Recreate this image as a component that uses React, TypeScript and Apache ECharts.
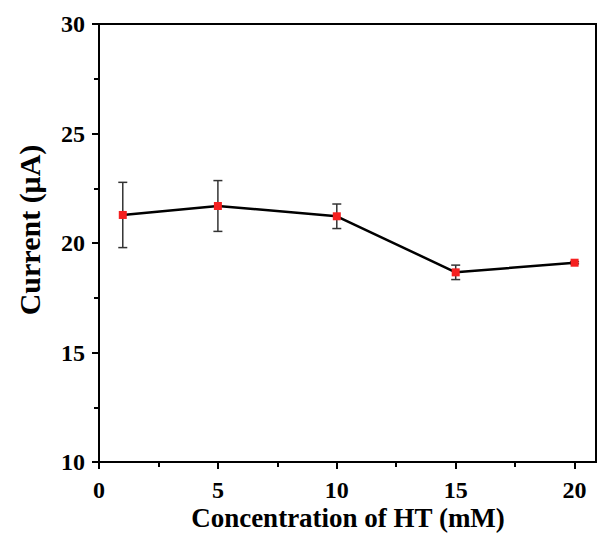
import React, { useEffect, useRef } from "react";
import * as echarts from "echarts";

const concentrations = [1, 5, 10, 15, 20];
const currents = [21.28, 21.69, 21.22, 18.66, 19.1];
const errors = [1.49, 1.16, 0.56, 0.33, 0.05];
const xMajorTicks = [0, 5, 10, 15, 20];
const xMinorTicks = [2.5, 7.5, 12.5, 17.5];
const xTitle = "Concentration of HT (mM)";
const yTitle = "Current (μA)";

const FONT = "'Liberation Serif', 'Times New Roman', serif";

export default function App() {
  const ref = useRef<HTMLDivElement>(null);
  useEffect(() => {
    if (!ref.current) return;
    const chart = echarts.init(ref.current, undefined, { renderer: "svg" });
    const lineData = concentrations.map((c, i) => [c, currents[i]]);
    const errData = concentrations.map((c, i) => [c, currents[i] - errors[i], currents[i] + errors[i]]);
    chart.setOption({
      animation: false,
      backgroundColor: "#ffffff",
      grid: {
        left: 99,
        top: 24,
        right: 2,
        bottom: 74,
        show: true,
        borderColor: "#000",
        borderWidth: 2,
        backgroundColor: "transparent",
      },
      graphic: [
        {
          type: "text",
          x: 348,
          y: 518,
          style: {
            text: xTitle,
            fontFamily: FONT,
            fontWeight: "bold",
            fontSize: 27,
            fill: "#000",
            textAlign: "center",
            textVerticalAlign: "middle",
          },
        },
        {
          type: "text",
          x: 29,
          y: 230,
          rotation: Math.PI / 2,
          style: {
            text: yTitle,
            fontFamily: FONT,
            fontWeight: "bold",
            fontSize: 30,
            fill: "#000",
            textAlign: "center",
            textVerticalAlign: "middle",
          },
        },
      ],
      xAxis: [
        {
          type: "value",
          min: 0,
          max: 20.9,
          position: "bottom",
          axisLine: { show: true, onZero: false, lineStyle: { color: "#000", width: 2 } },
          axisTick: { show: true, inside: false, length: 7, customValues: xMajorTicks, lineStyle: { color: "#000", width: 2 } },
          axisLabel: { show: true, customValues: xMajorTicks, margin: 16, fontFamily: FONT, fontWeight: "bold", fontSize: 24, color: "#000" },
          splitLine: { show: false },
        },
        {
          type: "value",
          min: 0,
          max: 20.9,
          position: "bottom",
          axisLine: { show: false },
          axisTick: { show: true, inside: false, length: 5, customValues: xMinorTicks, lineStyle: { color: "#000", width: 2 } },
          axisLabel: { show: false },
          splitLine: { show: false },
        },
      ],
      yAxis: {
        type: "value",
        min: 10,
        max: 30,
        interval: 5,
        axisLine: { show: true, onZero: false, lineStyle: { color: "#000", width: 2 } },
        axisTick: { show: true, inside: false, length: 7, lineStyle: { color: "#000", width: 2 } },
        minorTick: { show: true, splitNumber: 2, length: 5, lineStyle: { color: "#000", width: 2 } },
        axisLabel: { margin: 14, fontFamily: FONT, fontWeight: "bold", fontSize: 24, color: "#000" },
        splitLine: { show: false },
      },
      series: [
        {
          type: "custom",
          xAxisIndex: 0,
          z: 1,
          data: errData,
          renderItem: (params: any, api: any) => {
            const x = api.value(0);
            const lo = api.coord([x, api.value(1)]);
            const hi = api.coord([x, api.value(2)]);
            const w = 4.5;
            const style = { stroke: "#333", lineWidth: 1.5 };
            return {
              type: "group",
              children: [
                { type: "line", shape: { x1: hi[0], y1: hi[1], x2: lo[0], y2: lo[1] }, style },
                { type: "line", shape: { x1: hi[0] - w, y1: hi[1], x2: hi[0] + w, y2: hi[1] }, style },
                { type: "line", shape: { x1: lo[0] - w, y1: lo[1], x2: lo[0] + w, y2: lo[1] }, style },
              ],
            };
          },
        },
        {
          type: "line",
          xAxisIndex: 0,
          z: 3,
          data: lineData,
          symbol: "rect",
          symbolSize: 8,
          lineStyle: { color: "#000", width: 2.5 },
          itemStyle: { color: "#f52020" },
        },
      ],
    });
    return () => chart.dispose();
  }, []);
  return <div ref={ref} style={{ position: "fixed", left: 0, top: 0, width: 598, height: 536 }} />;
}
